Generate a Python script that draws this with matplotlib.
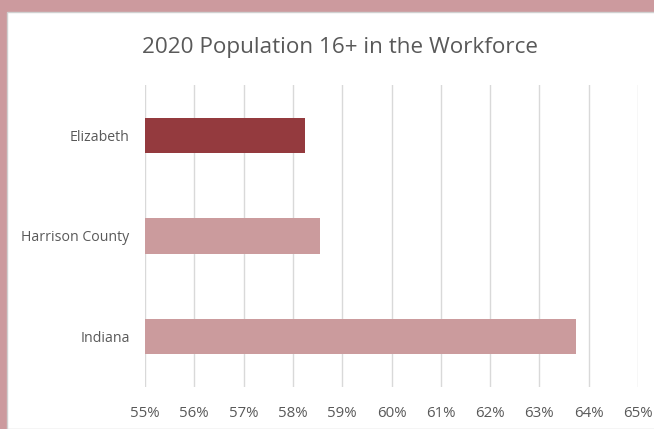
import matplotlib
matplotlib.use('Agg')
import matplotlib.pyplot as plt
from matplotlib.patches import Rectangle

plt.rcParams['font.family'] = ['Open Sans', 'DejaVu Sans']

places = ['Elizabeth', 'Harrison County', 'Indiana']
share = [58.25, 58.55, 63.75]
colors = ['#943a3e', '#cb9b9d', '#cb9b9d']
xticks = list(range(55, 66))

text_color = '#595959'

fig = plt.figure(figsize=(6.54, 4.29), dpi=100)

# pink frame around the chart area
fig.patches.append(Rectangle((0, 0), 1, 1, transform=fig.transFigure,
                             facecolor='#cc9a9e', edgecolor='none', zorder=-2))
fig.patches.append(Rectangle((7 / 654, 0), 1, 1 - 12 / 429, transform=fig.transFigure,
                             facecolor='white', edgecolor='#d0d0d0', linewidth=1, zorder=-1))

ax = fig.add_axes([145 / 654, 1 - 387 / 429, 493 / 654, 302 / 429])
ax.set_zorder(2)
ax.set_facecolor('none')
ax.barh(range(len(places)), [v - 55 for v in share], left=55, height=0.35,
        color=colors, zorder=3)

ax.set_xlim(55, 65)
ax.set_ylim(2.5, -0.5)
ax.set_xticks(xticks)
ax.set_xticklabels([f'{t}%' for t in xticks], fontsize=10.8, color=text_color)
ax.set_yticks(range(len(places)))
ax.set_yticklabels(places, fontsize=10.2, color=text_color)
ax.tick_params(length=0, pad=14, axis='x')
ax.tick_params(length=0, pad=11, axis='y')
ax.grid(True, axis='x', color='#d9d9d9', linewidth=1, zorder=0)
for s in ax.spines.values():
    s.set_visible(False)

fig.text(340 / 654, 1 - 47 / 429, '2020 Population 16+ in the Workforce',
         ha='center', va='center', fontsize=16.2, color=text_color)

fig.savefig('out.png', dpi=100)
